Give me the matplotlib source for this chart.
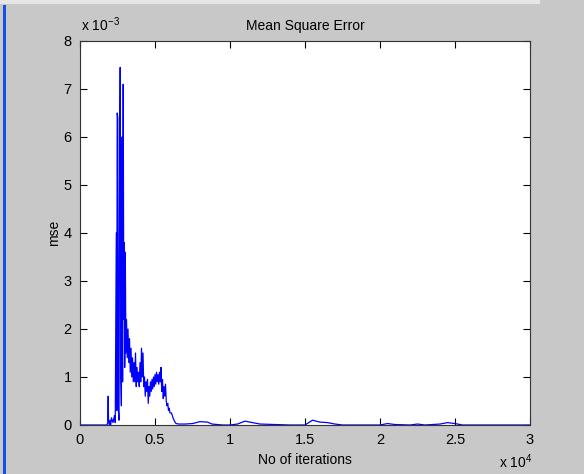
import numpy as np
import matplotlib
matplotlib.use("Agg")
import matplotlib.pyplot as plt
from matplotlib.patches import Rectangle

# iterations and mean square error (in units of 1e-3)
iterations = [0, 1800, 1850, 1880, 1900, 1950, 2000, 2050, 2100, 2200, 2300, 2350,
              2420, 2450, 2480, 2520, 2560, 2600, 2640, 2680, 2720, 2760, 2800, 2840,
              2880, 2920, 2950, 2980, 3020, 3060, 3100, 3150, 3200, 3250, 3300, 3350,
              3400, 3450, 3500, 3550, 3600, 3650, 3700, 3750, 3800, 3850, 3900, 3950,
              4000, 4050, 4100, 4150, 4200, 4250, 4300, 4350, 4400, 4450, 4500, 4550,
              4600, 4650, 4700, 4750, 4800, 4850, 4900, 4950, 5000, 5050, 5100, 5150,
              5200, 5250, 5300, 5350, 5400, 5450, 5500, 5550, 5600, 5650, 5700, 5750,
              5800, 5850, 5900, 5950, 6000, 6100, 6200, 6300, 6400, 6600, 7000, 7500,
              8000, 8500, 8800, 9500, 10000, 10500, 11000, 11500, 12000, 13000, 14000,
              15000, 15500, 16000, 16500, 17000, 17500, 20000, 20500, 21000, 22000,
              22500, 23000, 24000, 24500, 25000, 25500, 30000]
mse_e3 = [0.0, 0.0, 0.05, 0.6, 0.1, 0.0, 0.1, 0.0, 0.15, 0.05, 0.2, 0.05,
          4.0, 0.3, 6.5, 6.4, 0.3, 0.1, 5.0, 7.45, 1.0, 0.4, 6.0, 0.9,
          7.1, 2.2, 3.8, 1.2, 3.6, 1.5, 2.2, 1.4, 2.0, 1.3, 1.8, 1.1,
          1.6, 1.0, 1.4, 0.9, 1.3, 0.9, 1.5, 0.8, 1.2, 0.9, 1.1, 0.8,
          1.3, 0.9, 1.6, 1.0, 1.5, 0.8, 1.0, 0.6, 0.9, 0.7, 0.95, 0.45,
          0.8, 0.6, 0.9, 0.7, 0.95, 0.75, 1.0, 0.8, 1.05, 0.85, 1.1, 0.9,
          1.05, 0.85, 1.1, 0.9, 1.2, 0.7, 0.95, 0.55, 0.8, 0.6, 0.85, 0.5,
          0.4, 0.45, 0.3, 0.35, 0.25, 0.25, 0.15, 0.08, 0.03, 0.02, 0.02, 0.03,
          0.07, 0.06, 0.02, 0.0, 0.0, 0.02, 0.08, 0.05, 0.02, 0.01, 0.0,
          0.0, 0.1, 0.06, 0.05, 0.02, 0.0, 0.0, 0.03, 0.01, 0.0,
          0.02, 0.0, 0.02, 0.05, 0.03, 0.0, 0.0]

xticks = [0, 5000, 10000, 15000, 20000, 25000, 30000]
xticklabels = ["0", "0.5", "1", "1.5", "2", "2.5", "3"]
yticks = [0, 1, 2, 3, 4, 5, 6, 7, 8]
yticklabels = ["0", "1", "2", "3", "4", "5", "6", "7", "8"]

plt.rcParams['font.family'] = ['Liberation Sans', 'DejaVu Sans']

W, H = 584, 474
fig = plt.figure(figsize=(W / 100, H / 100), dpi=100, facecolor="#c8c8c8")

# left blue edge and faint top strip (window chrome)
fig.patches.append(Rectangle((3 / W, 0), 3 / W, (H - 5) / H, transform=fig.transFigure,
                             facecolor="#1450f0", edgecolor="none"))
fig.patches.append(Rectangle((0, (H - 4) / H), 540 / W, 4 / H, transform=fig.transFigure,
                             facecolor="#e6e6e6", edgecolor="none"))

ax = fig.add_axes([80 / W, (H - 425) / H, 450 / W, 384 / H])
ax.set_facecolor("white")
ax.plot(iterations, np.array(mse_e3), color="#0000ff", linewidth=0.9)

ax.set_xlim(0, 30000)
ax.set_ylim(0, 8)
ax.set_xticks(xticks)
ax.set_xticklabels(xticklabels)
ax.set_yticks(yticks)
ax.set_yticklabels(yticklabels)
ax.tick_params(direction="in", length=5, width=0.8, top=True, right=True,
               labelsize=10.5, pad=6, colors="black")
for s in ax.spines.values():
    s.set_linewidth(0.8)
    s.set_color("#333333")

ax.set_title("Mean Square Error", fontsize=10, pad=8)
ax.set_xlabel("No of iterations", fontsize=10, labelpad=4)
ax.set_ylabel("mse", fontsize=10, labelpad=2)

fig.text(81 / W, 1 - 31 / H, r"x 10$^{\mathregular{-3}}$", fontsize=10, ha="left", va="baseline")
fig.text(499 / W, 1 - 468 / H, r"x 10$^{\mathregular{4}}$", fontsize=10, ha="left", va="baseline")

fig.savefig("out.png", dpi=100, facecolor=fig.get_facecolor())
